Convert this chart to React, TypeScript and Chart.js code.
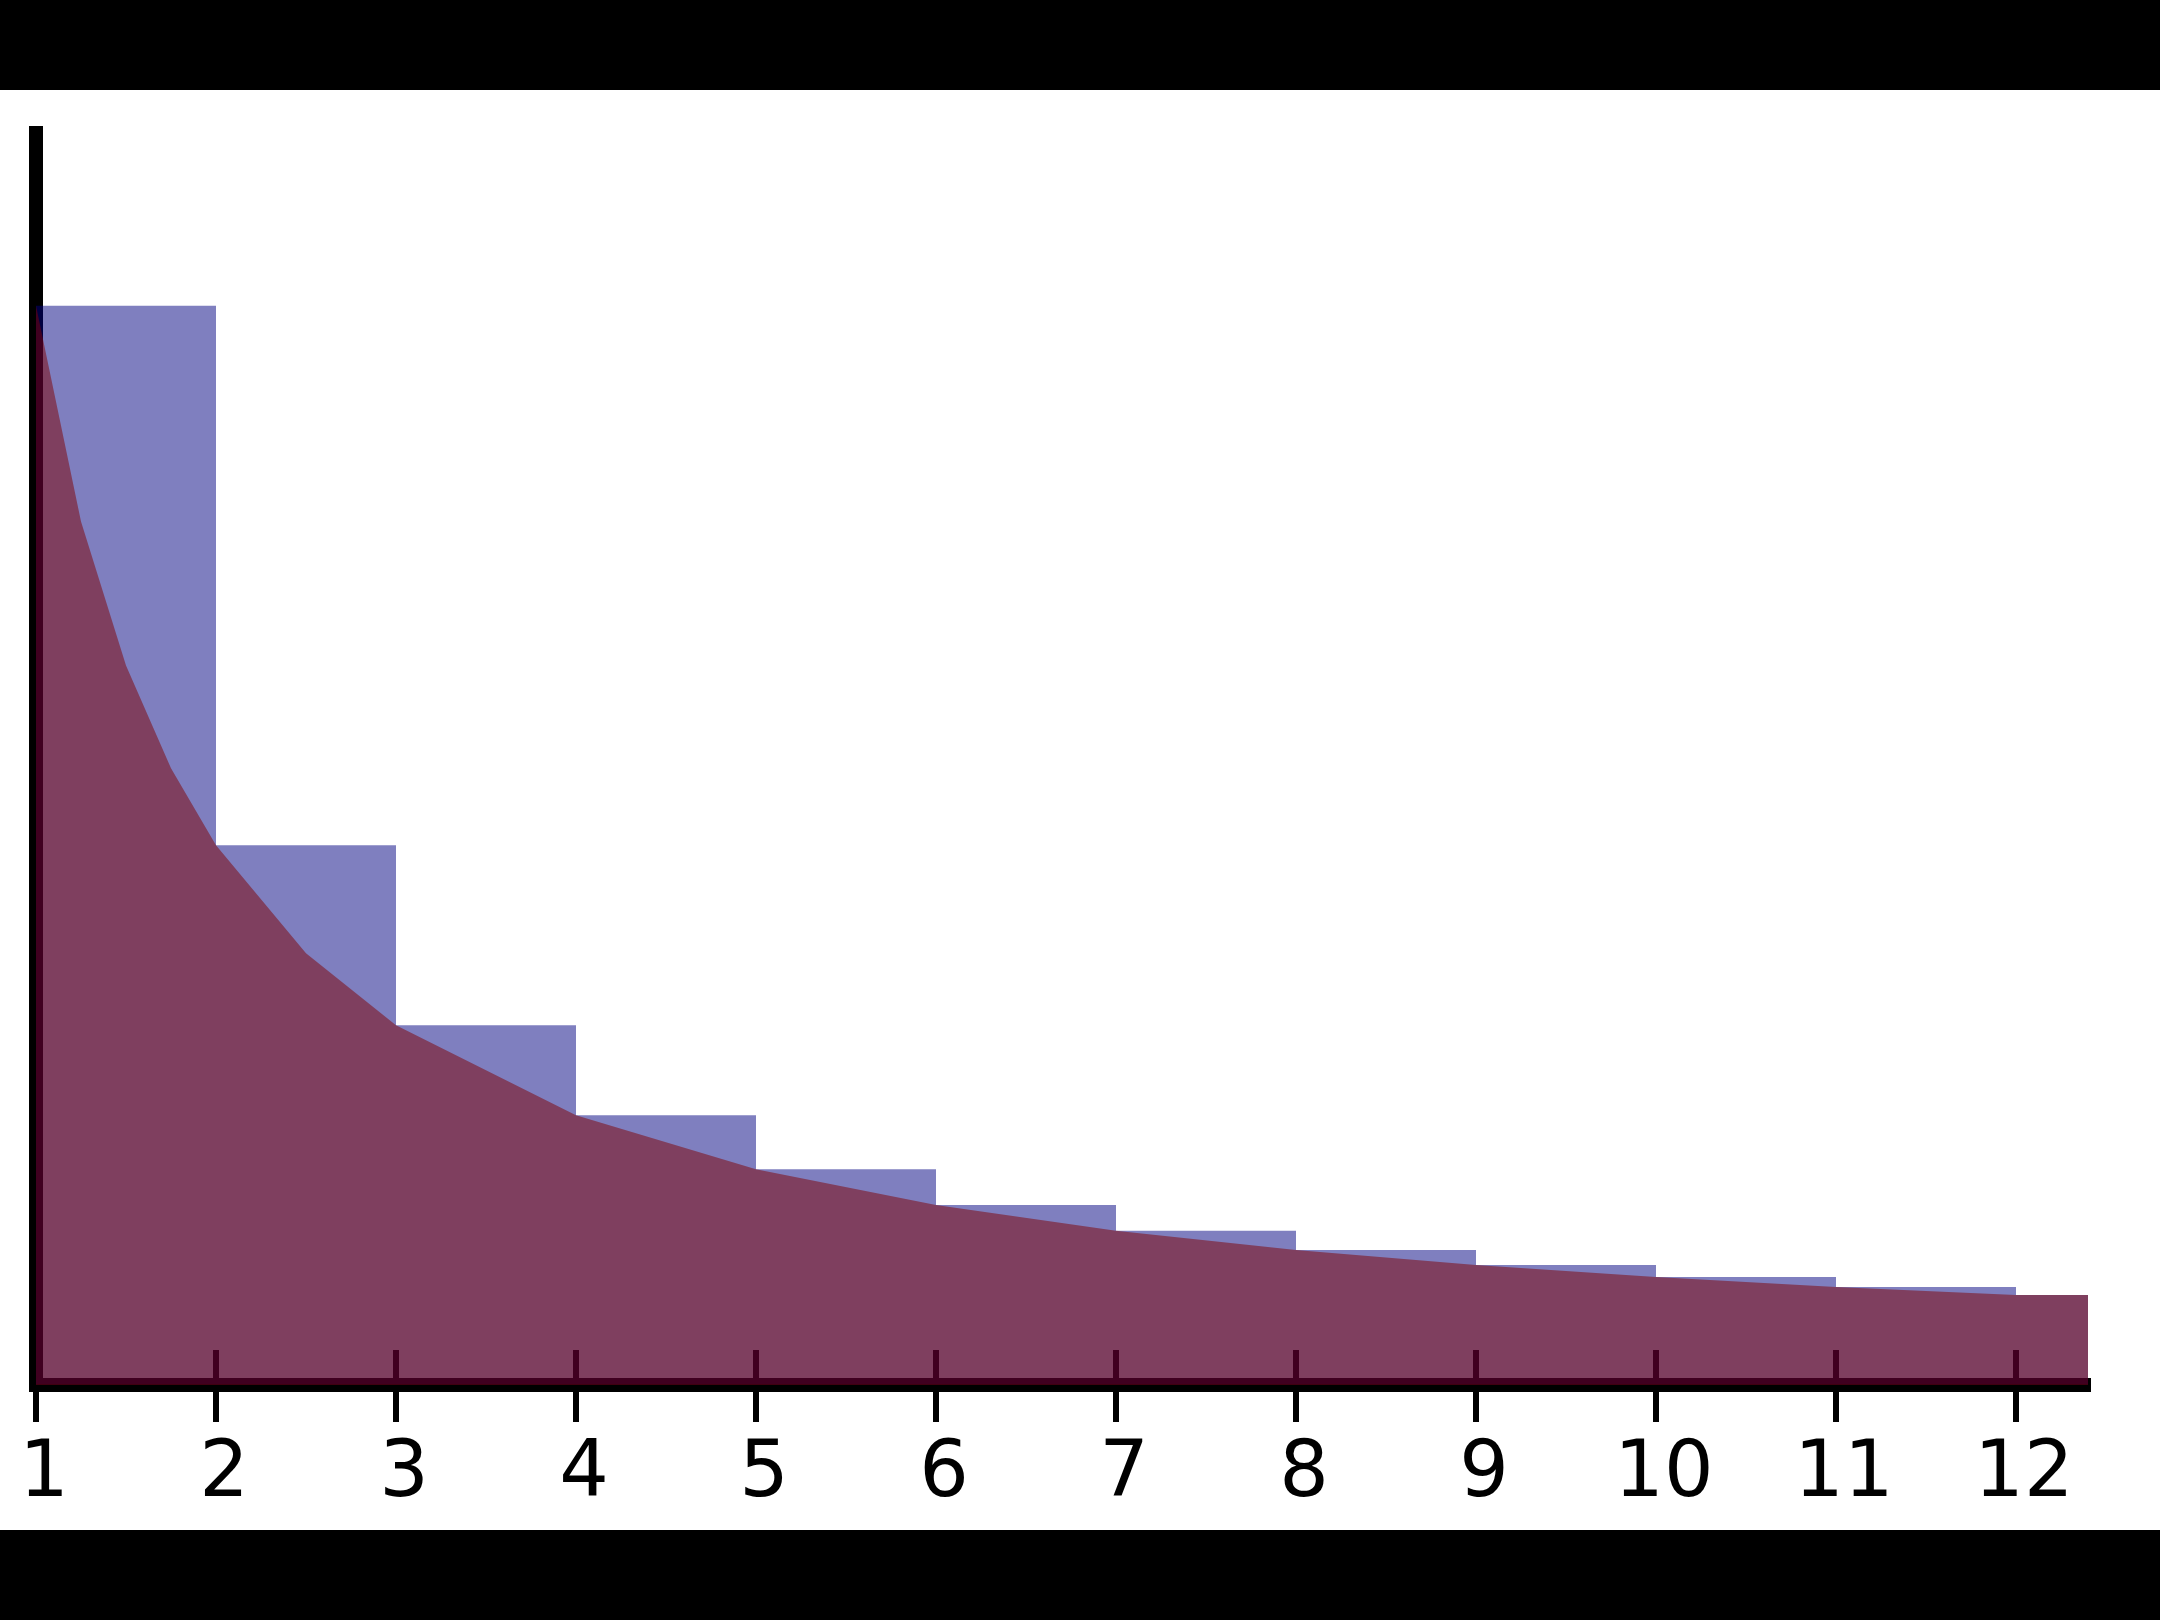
import React, { useEffect, useRef } from "react";
import { Chart, registerables } from "chart.js";

Chart.register(...registerables);

// Histogram bins (left edges, width 1) and bar heights (1/n)
const BIN_STARTS = [1, 2, 3, 4, 5, 6, 7, 8, 9, 10, 11, 12];
const BAR_HEIGHTS = [1, 0.5, 0.3333, 0.25, 0.2, 0.1667, 0.1429, 0.125, 0.1111, 0.1, 0.0909, 0.0833];

// Curve y = 1/x sampled points
const CURVE_X = [1, 1.25, 1.5, 1.75, 2, 2.5, 3, 4, 5, 6, 7, 8, 9, 10, 11, 12, 13];
const CURVE_Y = [1, 0.8, 0.6667, 0.5714, 0.5, 0.4, 0.3333, 0.25, 0.2, 0.1667, 0.1429, 0.125, 0.1111, 0.1, 0.0909, 0.0833, 0.0833];

// Axis ticks
const X_TICKS = [1, 2, 3, 4, 5, 6, 7, 8, 9, 10, 11, 12];
const X_TICK_LABELS = ["1", "2", "3", "4", "5", "6", "7", "8", "9", "10", "11", "12"];
const X_MIN = 1;
const X_MAX = 12.4;
const Y_MIN = 0;
const Y_MAX = 1.16;
const BIN_WIDTH = 1;

const innerTicks = {
  id: "innerTicks",
  beforeDatasetsDraw(chart: any) {
    const { ctx, chartArea, scales } = chart;
    const x = scales.x;
    ctx.save();
    ctx.strokeStyle = "#000";
    ctx.lineWidth = 6;
    x.ticks.forEach((t: any) => {
      const px = Math.round(x.getPixelForValue(t.value) - 3) + 3;
      ctx.beginPath();
      ctx.moveTo(px, chartArea.bottom - 35);
      ctx.lineTo(px, chartArea.bottom);
      ctx.stroke();
    });
    ctx.restore();
  },
};

export default function App() {
  const ref = useRef<HTMLCanvasElement>(null);

  useEffect(() => {
    if (!ref.current) return;
    const chart = new Chart(ref.current, {
      type: "bar",
      data: {
        datasets: [
          {
            type: "line",
            data: CURVE_X.map((x, i) => ({ x, y: CURVE_Y[i] })),
            fill: "origin",
            backgroundColor: "rgba(128,0,0,0.5)",
            borderColor: "rgba(0,0,0,0)",
            borderWidth: 0,
            pointRadius: 0,
            tension: 0,
          } as any,
          {
            type: "bar",
            data: BIN_STARTS.map((s, i) => ({ x: s + BIN_WIDTH / 2, y: BAR_HEIGHTS[i] })),
            backgroundColor: "rgba(0,0,128,0.5)",
            borderWidth: 0,
            inflateAmount: 0,
            barPercentage: 1,
            categoryPercentage: 1,
          } as any,
        ],
      },
      options: {
        animation: false,
        responsive: false,
        devicePixelRatio: 1,
        layout: { padding: { top: 43, right: 72, bottom: 0, left: 0 } },
        plugins: { legend: { display: false }, tooltip: { enabled: false } },
        scales: {
          x: {
            type: "linear",
            position: "bottom",
            offset: false,
            min: X_MIN,
            max: X_MAX,
            afterBuildTicks: (s: any) => {
              s.ticks = X_TICKS.map((v) => ({ value: v }));
            },
            afterFit: (s: any) => {
              s.height = 145;
            },
            ticks: {
              autoSkip: false,
              maxRotation: 0,
              padding: 7,
              labelOffset: 8,
              color: "#000",
              font: { family: "DejaVu Sans", size: 78 },
              callback: (_v: any, i: number) => X_TICK_LABELS[i],
            },
            grid: {
              display: true,
              offset: false,
              drawOnChartArea: false,
              drawTicks: true,
              tickLength: 37,
              lineWidth: 6,
              color: "#000",
            },
            border: { display: true, color: "#000", width: 14 },
          },
          y: {
            type: "linear",
            position: "left",
            min: Y_MIN,
            max: Y_MAX,
            afterFit: (s: any) => {
              s.width = 36;
            },
            ticks: { display: false },
            grid: { display: true, drawOnChartArea: false, drawTicks: false, color: "rgba(0,0,0,0)" },
            border: { display: true, color: "#000", width: 14 },
          },
        },
      } as any,
      plugins: [innerTicks],
    });
    return () => chart.destroy();
  }, []);

  return (
    <div style={{ position: "fixed", left: 0, top: 0, width: 2160, height: 1620, background: "#000" }}>
      <div style={{ position: "absolute", left: 0, top: 90, width: 2160, height: 1440, background: "#fff" }}>
        <canvas ref={ref} width={2160} height={1440} style={{ display: "block", width: 2160, height: 1440 }} />
      </div>
    </div>
  );
}
